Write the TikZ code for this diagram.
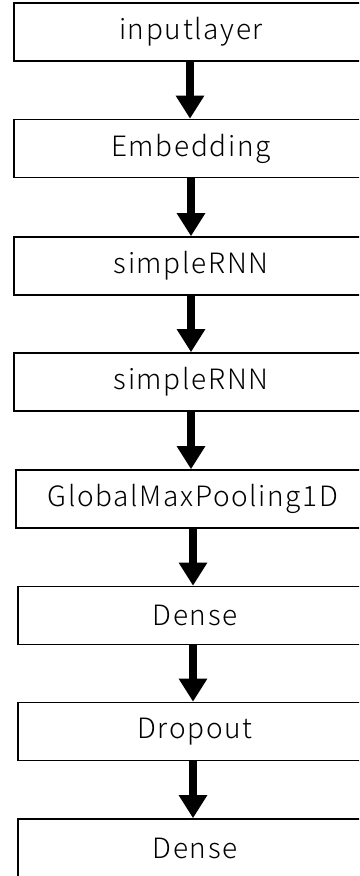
\documentclass[tikz,border=0pt]{standalone}
\usepackage{fontspec}
\setmainfont{Noto Sans CJK JP}[UprightFont={* Light}, LetterSpace=6]
\usetikzlibrary{arrows.meta}
\begin{document}
\begin{tikzpicture}[x=1pt,y=-1pt,
  layer/.style={draw=black, line width=1.6pt, fill=white, minimum height=58pt,
    minimum width=354pt, inner sep=0pt, font=\fontsize{28}{32}\selectfont},
  flow/.style={line width=8pt, -{Triangle[width=27pt,length=23pt]}}]
\clip (0,0) rectangle (359,876);
\fill[white] (0,0) rectangle (359,876);
\node[layer] (n1) at (191,32)  {inputlayer};
\node[layer] (n2) at (191,148.5) {Embedding};
\node[layer] (n3) at (191,266) {simpleRNN};
\node[layer] (n4) at (191,382) {simpleRNN};
\node[layer] (n5) at (193,499) {GlobalMaxPooling1D};
\node[layer] (n6) at (195,615.5) {Dense};
\node[layer] (n7) at (195,731.5) {Dropout};
\node[layer] (n8) at (195,848) {Dense};
\foreach \a/\b/\x in {n1/n2/190,n2/n3/191,n3/n4/191,n4/n5/191,n5/n6/193,n6/n7/193,n7/n8/193}{
  \draw[flow] (\a.south -| \x,0) -- (\b.north -| \x,0);
}
\end{tikzpicture}
\end{document}
